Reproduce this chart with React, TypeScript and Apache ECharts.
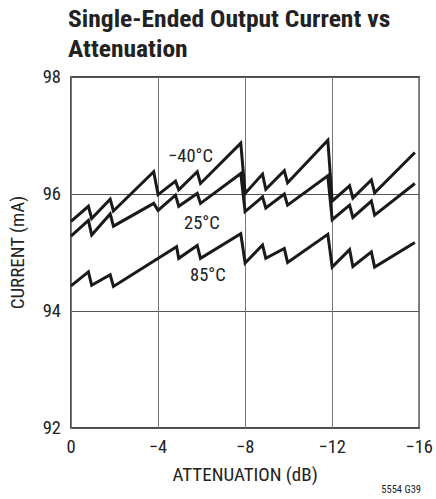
import React, { useEffect, useRef } from "react";
import * as echarts from "echarts";

const attenuationCold: number[] = [0, -0.8, -0.95, -1.8, -1.95, -3.8, -4, -4.8, -4.95, -5.8, -5.95, -7.8, -8, -8.8, -8.95, -9.8, -9.95, -11.8, -12, -12.8, -12.95, -13.8, -13.95, -15.8];
const currentMinus40: number[] = [95.53, 95.79, 95.58, 95.91, 95.71, 96.38, 95.99, 96.22, 96.07, 96.38, 96.18, 96.87, 96.01, 96.34, 96.08, 96.40, 96.19, 96.92, 95.88, 96.14, 95.93, 96.24, 96.02, 96.71];
const current25: number[] = [95.28, 95.55, 95.30, 95.66, 95.45, 95.84, 95.72, 95.98, 95.79, 96.01, 95.84, 96.35, 95.70, 95.95, 95.76, 96.00, 95.81, 96.31, 95.56, 95.81, 95.60, 95.88, 95.64, 96.18];
const attenuationHot: number[] = [0, -0.8, -0.95, -1.8, -1.95, -4.85, -4.95, -5.8, -5.95, -7.8, -8, -8.8, -8.95, -9.8, -9.95, -11.8, -12, -12.8, -12.95, -13.8, -13.95, -15.8];
const current85: number[] = [94.43, 94.67, 94.44, 94.62, 94.42, 95.10, 94.90, 95.12, 94.90, 95.32, 94.82, 95.13, 94.90, 95.07, 94.83, 95.31, 94.75, 95.05, 94.76, 95.01, 94.75, 95.17];

const seriesNames: string[] = ["−40°C", "25°C", "85°C"];
const titleLines: string[] = ["Single-Ended Output Current vs", "Attenuation"];
const xTicks: number[] = [0, -4, -8, -12, -16];
const yTicks: number[] = [92, 94, 96, 98];

const FONT = "'Liberation Sans Narrow', 'Arial Narrow', 'Roboto Condensed', sans-serif";

const pairs = (xs: number[], ys: number[]) => xs.map((x, i) => [x, ys[i]]);

export default function App() {
  const ref = useRef<HTMLDivElement>(null);
  useEffect(() => {
    if (!ref.current) return;
    const chart = echarts.init(ref.current, undefined, { renderer: "svg" });
    const lineStyle = { color: "#1a1a1a", width: 3, join: "miter" as const };
    const titleStyle = { fontFamily: FONT, fontWeight: "bold" as const, fontSize: 24, fill: "#222", verticalAlign: "middle" as const, align: "left" as const };
    chart.setOption({
      animation: false,
      grid: { left: 69, right: 15, top: 77, bottom: 71, show: true, borderColor: "#111", borderWidth: 1.5, backgroundColor: "transparent" },
      xAxis: {
        type: "value",
        inverse: true,
        min: xTicks[xTicks.length - 1],
        max: xTicks[0],
        interval: 4,
        name: "ATTENUATION (dB)",
        nameLocation: "middle",
        nameGap: 37,
        nameTextStyle: { fontFamily: FONT, fontSize: 19, color: "#222" },
        axisLine: { show: false },
        axisTick: { show: false },
        axisLabel: {
          fontFamily: FONT,
          fontSize: 18.5,
          color: "#222",
          margin: 9,
          formatter: (v: number) => (v === 0 ? "0" : "−" + Math.abs(v)),
        },
        splitLine: { show: true, lineStyle: { color: "#777", width: 1 } },
      },
      yAxis: {
        type: "value",
        min: yTicks[0],
        max: yTicks[yTicks.length - 1],
        interval: 2,
        name: "CURRENT (mA)",
        nameLocation: "middle",
        nameGap: 44,
        nameTextStyle: { fontFamily: FONT, fontSize: 19, color: "#222" },
        axisLine: { show: false },
        axisTick: { show: false },
        axisLabel: { fontFamily: FONT, fontSize: 18.5, color: "#222", margin: 10 },
        splitLine: { show: true, lineStyle: { color: "#555", width: 1 } },
      },
      graphic: [
        { type: "text", x: 68, y: 19, scaleX: 1.065, style: { text: titleLines[0], ...titleStyle } },
        { type: "text", x: 68, y: 48.5, scaleX: 1.065, style: { text: titleLines[1], ...titleStyle } },
        { type: "text", left: 168, top: 146, style: { text: seriesNames[0], fontFamily: FONT, fontSize: 18.5, fill: "#222" } },
        { type: "text", left: 184, top: 213, style: { text: seriesNames[1], fontFamily: FONT, fontSize: 18.5, fill: "#222" } },
        { type: "text", left: 190, top: 265, style: { text: seriesNames[2], fontFamily: FONT, fontSize: 18.5, fill: "#222" } },
        { type: "text", right: 15, top: 484, style: { text: "5554 G39", fontFamily: FONT, fontSize: 10.5, fill: "#222" } },
      ],
      series: [
        { name: seriesNames[0], type: "line", data: pairs(attenuationCold, currentMinus40), showSymbol: false, lineStyle },
        { name: seriesNames[1], type: "line", data: pairs(attenuationCold, current25), showSymbol: false, lineStyle },
        { name: seriesNames[2], type: "line", data: pairs(attenuationHot, current85), showSymbol: false, lineStyle },
      ],
    });
    return () => chart.dispose();
  }, []);
  return <div ref={ref} style={{ width: 436, height: 499, position: "absolute", left: 0, top: 0 }} />;
}
